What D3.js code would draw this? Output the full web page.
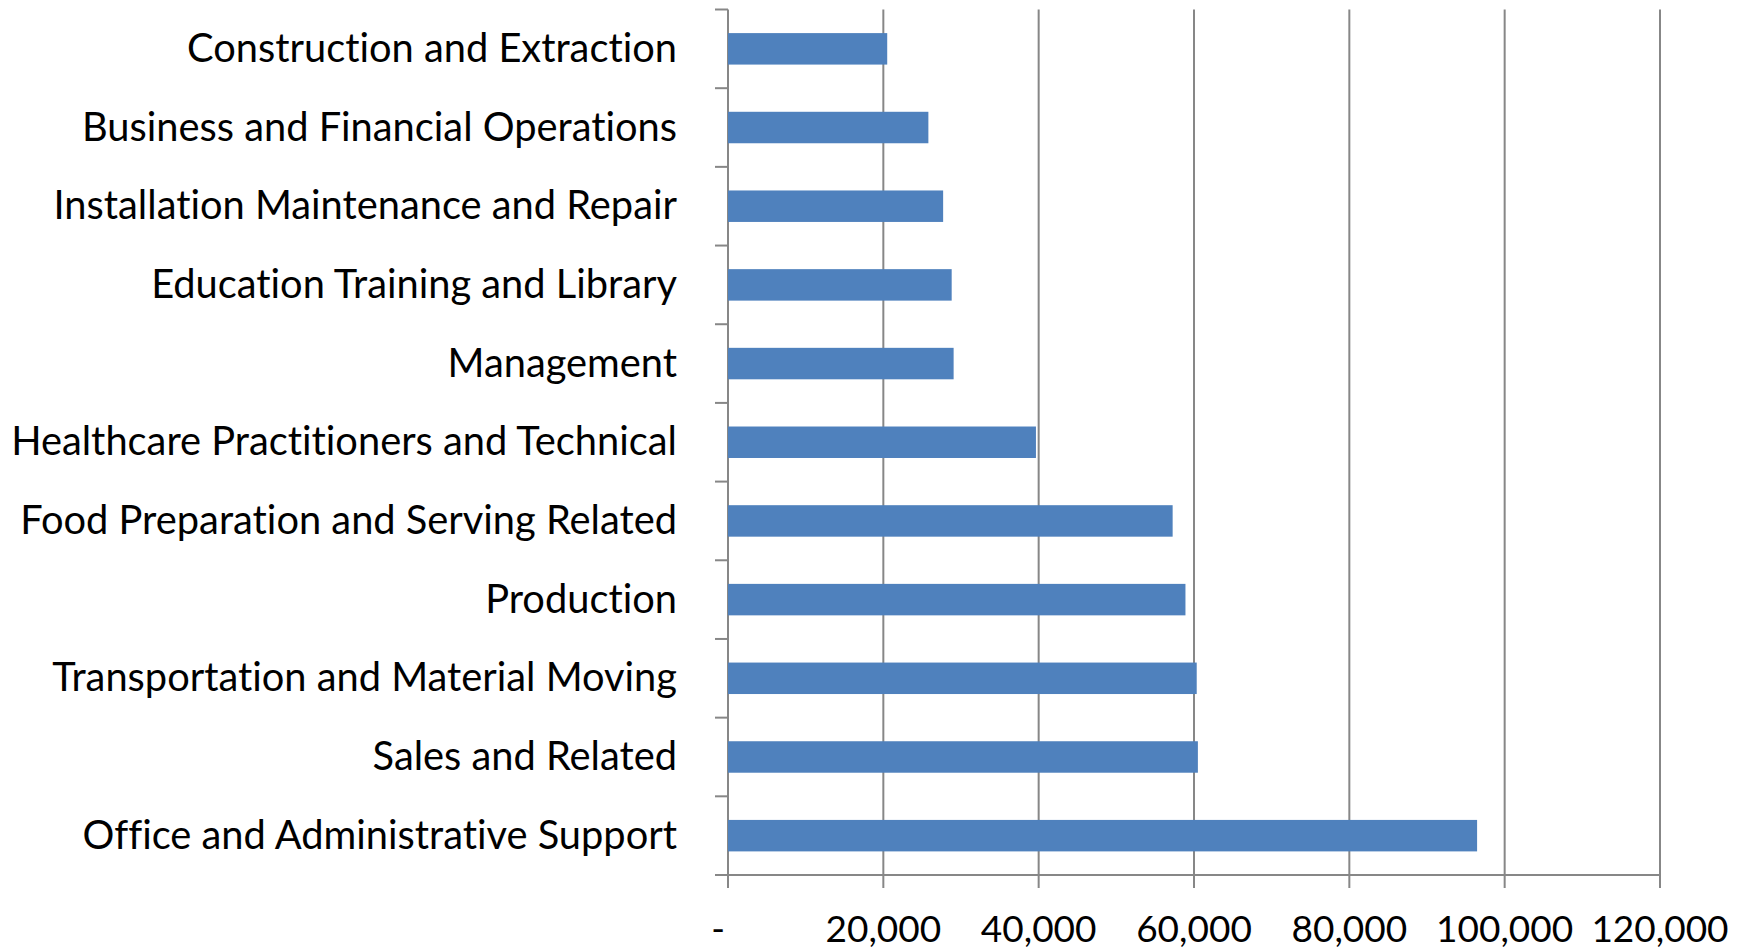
<!DOCTYPE html>
<html>
<head>
<meta charset="utf-8">
<style>
  body { margin: 0; background: #fff; }
  text { font-family: Lato, "Open Sans", sans-serif; fill: #000; font-variant-ligatures: none; }
</style>
</head>
<body>
<svg id="chart" width="1748" height="949"></svg>
<script src="https://d3js.org/d3.v7.min.js"></script>
<script>

var categories = [
  "Construction and Extraction",
  "Business and Financial Operations",
  "Installation Maintenance and Repair",
  "Education Training and Library",
  "Management",
  "Healthcare Practitioners and Technical",
  "Food Preparation and Serving Related",
  "Production",
  "Transportation and Material Moving",
  "Sales and Related",
  "Office and Administrative Support"
];
var values = [20500, 25800, 27700, 28800, 29050, 39650, 57250, 58900, 60350, 60500, 96450];
var xTicks = [0, 20000, 40000, 60000, 80000, 100000, 120000];
var xTickLabels = ["-", "20,000", "40,000", "60,000", "80,000", "100,000", "120,000"];

var svg = d3.select("#chart");
var plotLeft = 728, plotRight = 1660, plotTop = 9.5, plotBottom = 875;
var gridColor = "#878787";

var x = d3.scaleLinear().domain([0, 120000]).range([plotLeft, plotRight]);
var y = d3.scaleBand().domain(categories).range([plotTop, plotBottom])
    .paddingInner(0.6).paddingOuter(0.3);

// vertical gridlines + ticks below the axis
svg.selectAll("line.grid")
  .data(xTicks)
  .enter().append("line")
    .attr("class", "grid")
    .attr("x1", function(d) { return x(d); })
    .attr("x2", function(d) { return x(d); })
    .attr("y1", plotTop)
    .attr("y2", plotBottom + 13)
    .attr("stroke", gridColor)
    .attr("stroke-width", 2);

// horizontal axis line
svg.append("line")
    .attr("x1", plotLeft - 13).attr("x2", plotRight)
    .attr("y1", plotBottom).attr("y2", plotBottom)
    .attr("stroke", gridColor).attr("stroke-width", 2);

// category ticks at band boundaries
var step = y.step();
svg.selectAll("line.ytick")
  .data(d3.range(categories.length + 1))
  .enter().append("line")
    .attr("class", "ytick")
    .attr("x1", plotLeft - 13).attr("x2", plotLeft)
    .attr("y1", function(i) { return plotTop + i * step; })
    .attr("y2", function(i) { return plotTop + i * step; })
    .attr("stroke", gridColor).attr("stroke-width", 2);

// bars
svg.selectAll("rect.bar")
  .data(values)
  .enter().append("rect")
    .attr("class", "bar")
    .attr("x", x(0))
    .attr("y", function(d, i) { return y(categories[i]); })
    .attr("width", function(d) { return x(d) - x(0); })
    .attr("height", y.bandwidth())
    .attr("fill", "#4F81BD");

// category labels
svg.selectAll("text.cat")
  .data(categories)
  .enter().append("text")
    .attr("class", "cat")
    .attr("x", plotLeft - 51)
    .attr("y", function(d) { return y(d) + y.bandwidth() / 2 + 13; })
    .attr("text-anchor", "end")
    .attr("font-size", 39.8)
    .text(function(d) { return d; });

// x tick labels
svg.selectAll("text.xlab")
  .data(xTicks)
  .enter().append("text")
    .attr("class", "xlab")
    .attr("x", function(d) { return d === 0 ? x(d) - 10 : x(d); })
    .attr("y", 942)
    .attr("text-anchor", "middle")
    .attr("font-size", 37)
    .text(function(d, i) { return xTickLabels[i]; });

</script>
</body>
</html>
